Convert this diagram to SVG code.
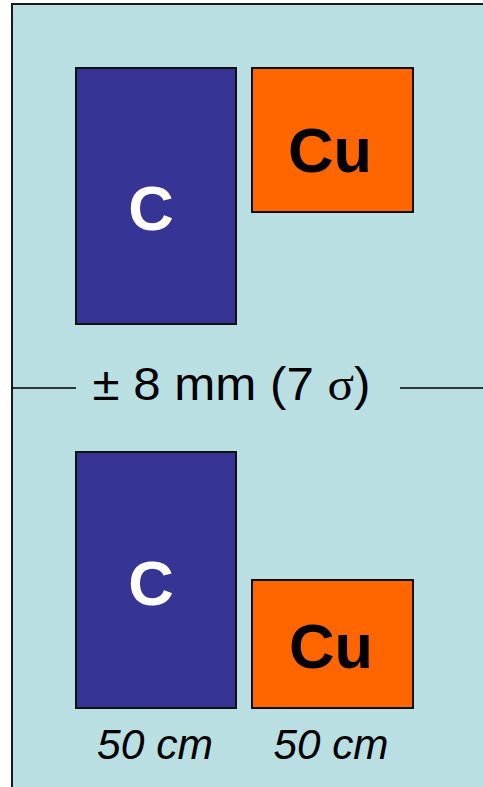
<svg xmlns="http://www.w3.org/2000/svg" width="483" height="787" viewBox="0 0 483 787">
<style>
.bg{fill:#b9dfe2;stroke:#1a1a1a;stroke-width:2}
.c{fill:#363596;stroke:#111;stroke-width:2}
.cu{fill:#ff6600;stroke:#111;stroke-width:2}
.lw{font-family:"Liberation Sans",Arial,sans-serif;font-weight:bold;font-size:63px;text-anchor:middle}
.lab{font-family:"Liberation Sans",Arial,sans-serif;font-size:46px;text-anchor:middle;fill:#000}
.dim{font-family:"Liberation Sans",Arial,sans-serif;font-style:italic;font-size:42px;text-anchor:middle;fill:#000}
.ln{stroke:#000;stroke-width:1.5;fill:none}
</style>
<rect class="bg" x="12" y="4" width="480" height="800"/>
<g id="separator">
<line class="ln" x1="12" y1="388" x2="76" y2="388"/>
<line class="ln" x1="400" y1="388" x2="483" y2="388"/>
<text class="lab" x="231.5" y="400" textLength="278" lengthAdjust="spacingAndGlyphs">± 8 mm (7 <tspan font-family="'Liberation Serif',serif">σ</tspan>)</text>
</g>
<g id="top-c">
<rect class="c" x="76" y="68" width="160" height="256"/>
<text class="lw" x="151" y="230" fill="#fff">C</text>
</g>
<g id="top-cu">
<rect class="cu" x="252" y="68" width="161" height="144"/>
<text class="lw" x="330" y="172" fill="#000">Cu</text>
</g>
<g id="bottom-c">
<rect class="c" x="76" y="452" width="160" height="256"/>
<text class="lw" x="151" y="605" fill="#fff">C</text>
</g>
<g id="bottom-cu">
<rect class="cu" x="252" y="580" width="161" height="128"/>
<text class="lw" x="331" y="668" fill="#000">Cu</text>
</g>
<g id="widths">
<text class="dim" x="155" y="759" textLength="116" lengthAdjust="spacingAndGlyphs">50 cm</text>
<text class="dim" x="331" y="759" textLength="115" lengthAdjust="spacingAndGlyphs">50 cm</text>
</g>
</svg>
